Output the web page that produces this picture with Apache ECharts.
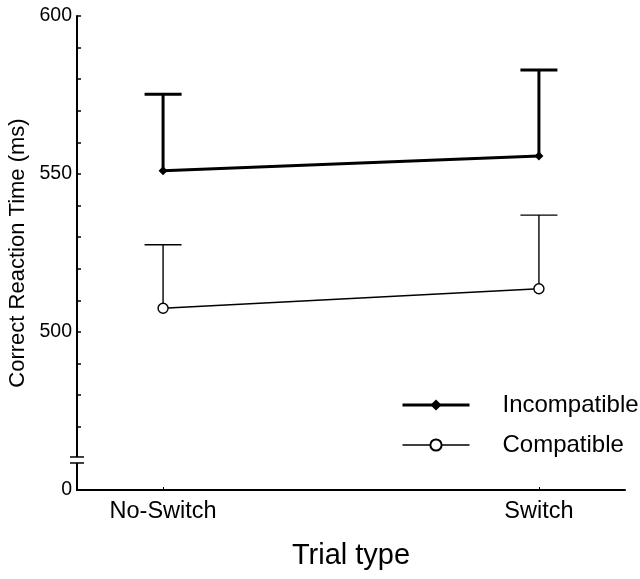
<!DOCTYPE html>
<html>
<head>
<meta charset="utf-8">
<script src="https://cdn.jsdelivr.net/npm/echarts@6/dist/echarts.min.js"></script>
<style>
  html, body { margin: 0; padding: 0; background: #fff; }
  #chart { width: 640px; height: 579px; }
</style>
</head>
<body>
<div id="chart"></div>
<script>
// data
const categories = ['No-Switch', 'Switch'];
const incompatible = [551.0, 555.7];
const incompatibleErr = [575.2, 582.9];
const compatible = [507.5, 513.7];
const compatibleErr = [527.6, 537.0];
const yTicks = [470, 480, 490, 500, 510, 520, 530, 540, 550, 560, 570, 580, 590, 600];
const yLabels = [450, 500, 550, 600];

const font = 'Liberation Sans, Arial, sans-serif';
const toPoints = vals => vals.map((v, i) => [i + 1, v]);

// error bar rows: [x, mean, upper, thick]
const errRows = [];
incompatible.forEach((v, i) => errRows.push([i + 1, v, incompatibleErr[i], 1]));
compatible.forEach((v, i) => errRows.push([i + 1, v, compatibleErr[i], 0]));

const chart = echarts.init(document.getElementById('chart'));

const option = {
  animation: false,
  grid: { left: 77, right: 15, top: 16, bottom: 89, containLabel: false, outerBoundsMode: 'none' },
  legend: {
    orient: 'vertical',
    left: 396,
    top: 388,
    itemWidth: 67,
    itemHeight: 14,
    itemGap: 16,
    textStyle: { fontFamily: font, fontSize: 24, color: '#000', padding: [0, 0, 0, 28] },
    data: [
      { name: 'Incompatible', lineStyle: { width: 3, color: '#000' } },
      { name: 'Compatible', lineStyle: { width: 1.4, color: '#000' } }
    ]
  },
  xAxis: {
    type: 'value',
    min: 0.771,
    max: 2.229,
    name: 'Trial type',
    nameLocation: 'middle',
    nameGap: 51,
    nameTextStyle: { fontFamily: font, fontSize: 29, color: '#000' },
    axisLine: { onZero: false, lineStyle: { color: '#000', width: 2 } },
    axisTick: { inside: true, length: 3, customValues: [1, 2], lineStyle: { color: '#000' } },
    axisLabel: {
      customValues: [1, 2],
      formatter: v => categories[Math.round(v) - 1],
      fontFamily: font, fontSize: 23.5, color: '#000', margin: 10
    },
    splitLine: { show: false }
  },
  yAxis: {
    type: 'value',
    min: 450,
    max: 600,
    interval: 10,
    name: 'Correct Reaction Time (ms)',
    nameLocation: 'middle',
    nameGap: 48,
    nameTextStyle: { fontFamily: font, fontSize: 22, color: '#000' },
    axisLine: { show: true, onZero: false, lineStyle: { color: '#000', width: 2 } },
    axisTick: { show: true, inside: true, length: 4, customValues: yTicks, lineStyle: { color: '#000', width: 1.5 } },
    axisLabel: {
      customValues: yLabels,
      formatter: v => (v === 450 ? '0' : String(v)),
      fontFamily: font, fontSize: 19.5, color: '#000', margin: 5
    },
    splitLine: { show: false }
  },
  series: [
    {
      type: 'custom',
      z: 1,
      silent: true,
      data: errRows,
      renderItem: (params, api) => {
        const base = api.coord([api.value(0), api.value(1)]);
        const top = api.coord([api.value(0), api.value(2)]);
        const thick = api.value(3) === 1;
        const w = thick ? 3 : 1.4;
        const half = 18.5;
        return {
          type: 'group',
          children: [
            { type: 'line', shape: { x1: base[0], y1: base[1], x2: top[0], y2: top[1] }, style: { stroke: '#000', lineWidth: w } },
            { type: 'line', shape: { x1: top[0] - half, y1: top[1], x2: top[0] + half, y2: top[1] }, style: { stroke: '#000', lineWidth: w } }
          ]
        };
      }
    },
    {
      name: 'Incompatible',
      type: 'line',
      z: 3,
      data: toPoints(incompatible),
      symbol: 'diamond',
      symbolSize: 9,
      lineStyle: { color: '#000', width: 3 },
      itemStyle: { color: '#000' }
    },
    {
      name: 'Compatible',
      type: 'line',
      z: 3,
      data: toPoints(compatible),
      symbol: 'circle',
      symbolSize: 10,
      lineStyle: { color: '#000', width: 1.4 },
      itemStyle: { color: '#fff', borderColor: '#000', borderWidth: 1.4 }
    }
  ]
};

chart.setOption(option);

// axis break mark between 0 and the scale
const bx = chart.convertToPixel({ xAxisIndex: 0 }, 0.771);
const by = chart.convertToPixel({ yAxisIndex: 0 }, 459.5);
chart.setOption({
  graphic: [
    { type: 'rect', shape: { x: bx - 3, y: by - 3, width: 6, height: 6 }, style: { fill: '#fff' }, z: 100 },
    { type: 'line', shape: { x1: bx - 7, y1: by - 3, x2: bx + 7, y2: by - 3 }, style: { stroke: '#000', lineWidth: 1.5 }, z: 101 },
    { type: 'line', shape: { x1: bx - 7, y1: by + 3, x2: bx + 7, y2: by + 3 }, style: { stroke: '#000', lineWidth: 1.5 }, z: 101 }
  ]
});
</script>
</body>
</html>
